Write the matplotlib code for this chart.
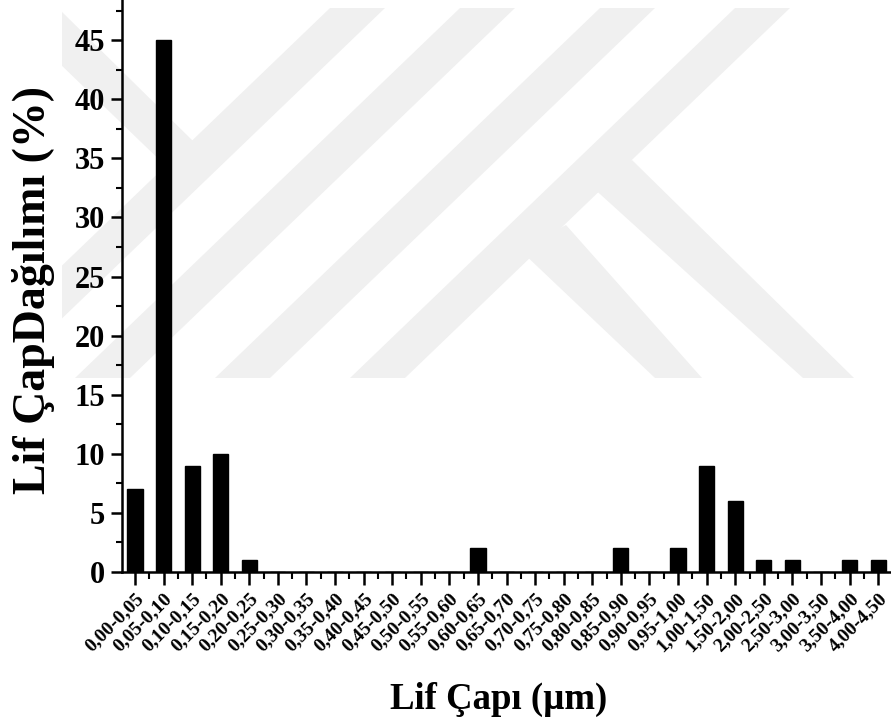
import matplotlib.pyplot as plt
from matplotlib.patches import Polygon, Rectangle
from matplotlib.ticker import MultipleLocator, FixedLocator
from matplotlib.transforms import ScaledTranslation

# Daten
kategorien = ['0,00-0,05', '0,05-0,10', '0,10-0,15', '0,15-0,20', '0,20-0,25',
              '0,25-0,30', '0,30-0,35', '0,35-0,40', '0,40-0,45', '0,45-0,50',
              '0,50-0,55', '0,55-0,60', '0,60-0,65', '0,65-0,70', '0,70-0,75',
              '0,75-0,80', '0,80-0,85', '0,85-0,90', '0,90-0,95', '0,95-1,00',
              '1,00-1,50', '1,50-2,00', '2,00-2,50', '2,50-3,00', '3,00-3,50',
              '3,50-4,00', '4,00-4,50']
dagilim = [7, 45, 9, 10, 1, 0, 0, 0, 0, 0, 0, 0, 2, 0, 0, 0, 0, 2, 0, 2,
           9, 6, 1, 1, 0, 1, 1]

plt.rcParams['font.family'] = 'Liberation Serif'
plt.rcParams['font.weight'] = 'bold'

W, H = 891, 725
fig = plt.figure(figsize=(W / 100, H / 100), dpi=100)

# Wasserzeichen (Hintergrund, in Pixel von oben links)
def px(pts):
    return [(x / W, 1 - y / H) for x, y in pts]

clip = Rectangle((62 / W, 1 - 378 / H), (880 - 62) / W, (378 - 8) / H,
                 transform=fig.transFigure, visible=False)
fig.add_artist(clip)
formen = []
for a in [330, 460, 600, 735]:
    formen.append([(a, 8), (a + 55, 8), (a + 55 - 385, 378), (a - 385, 378)])
formen.append([(632, 160), (854, 378), (803, 378), (590, 185)])
formen.append([(566, 225), (702, 378), (655, 378), (520, 250)])
formen.append([(58, 8), (193, 141), (170, 170), (58, 62)])
for f in formen:
    p = Polygon(px(f), closed=True, transform=fig.transFigure,
                facecolor='#f0f0f0', edgecolor='none', zorder=-5)
    p.set_clip_path(clip)
    fig.add_artist(p)

ax = fig.add_axes([0.137, 0.211, 0.863, 0.789])
ax.patch.set_visible(False)

x = list(range(len(kategorien)))
ax.bar(x, dagilim, width=0.53, color='black', edgecolor='black')

ax.set_xlim(-0.45, 26.45)
ax.set_ylim(0, 48.4)

ax.spines['top'].set_visible(False)
ax.spines['right'].set_visible(False)
ax.spines['left'].set_linewidth(1.8)
ax.spines['bottom'].set_linewidth(1.8)

ax.set_xticks(x)
ax.set_xticklabels(kategorien, rotation=45, ha='right', rotation_mode='anchor',
                   fontsize=14, fontweight='bold')
versatz = ScaledTranslation(0.10, 0, fig.dpi_scale_trans)
for lbl in ax.get_xticklabels():
    lbl.set_transform(lbl.get_transform() + versatz)
ax.xaxis.set_minor_locator(FixedLocator([i + 0.5 for i in range(-1, 27)]))
ax.yaxis.set_major_locator(MultipleLocator(5))
ax.yaxis.set_minor_locator(MultipleLocator(2.5))

ax.tick_params(axis='x', which='major', direction='out', length=9, width=1.8, pad=4)
ax.tick_params(axis='x', which='minor', direction='out', length=5, width=1.5)
ax.tick_params(axis='y', which='major', direction='out', length=8, width=1.8,
               labelsize=22, pad=4)
ax.tick_params(axis='y', which='minor', direction='out', length=4, width=1.5)
for lbl in ax.get_yticklabels():
    lbl.set_fontweight('bold')

fig.text(0.56, 0.035, 'Lif Çapı (µm)', ha='center', va='center',
         fontsize=26.5, fontweight='bold')
fig.text(0.038, 0.6, 'Lif ÇapDağılımı (%)', ha='center', va='center',
         rotation=90, fontsize=33, fontweight='bold')

fig.savefig('out.png', dpi=100)
